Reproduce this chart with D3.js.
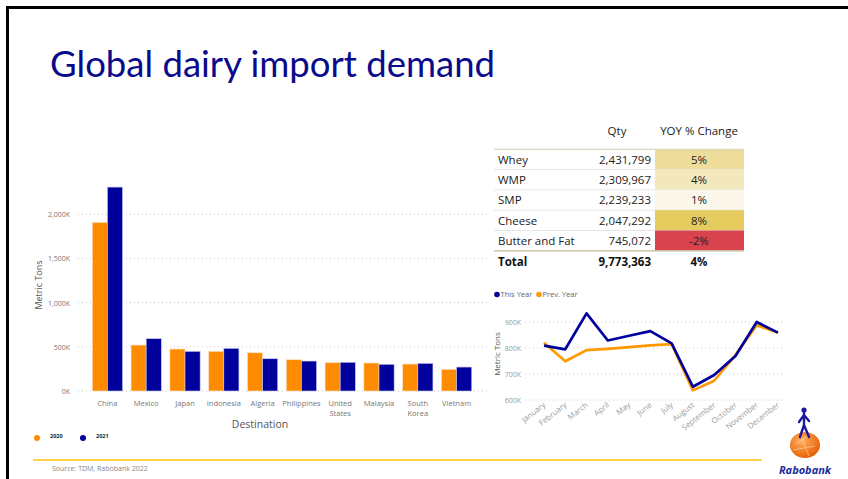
<!DOCTYPE html>
<html>
<head>
<meta charset="utf-8">
<script src="https://cdn.jsdelivr.net/npm/d3@7"></script>
<style>
  body { margin: 0; background: #fff; }
  svg { display: block; }
</style>
</head>
<body>
<div id="chart"></div>
<script>
// ---- data ----
var destinations = ["China", "Mexico", "Japan", "Indonesia", "Algeria", "Philippines", "United States", "Malaysia", "South Korea", "Vietnam"];
var imports2020 = [1908, 520, 475, 449, 433, 354, 320, 317, 305, 245];   // thousand tons
var imports2021 = [2308, 592, 449, 483, 365, 339, 325, 302, 313, 271];
var barTicks = [0, 500, 1000, 1500, 2000];

var products = ["Whey", "WMP", "SMP", "Cheese", "Butter and Fat"];
var qty = [2431799, 2309967, 2239233, 2047292, 745072];
var yoy = [5, 4, 1, 8, -2];
var totalQty = 9773363, totalYoy = 4;

var months = ["January", "February", "March", "April", "May", "June", "July", "August", "September", "October", "November", "December"];
var thisYear = [809, 795, 933, 829, 847, 865, 818, 651, 696, 769, 900, 859];
var prevYear = [820, 749, 792, 797, 803, 810, 815, 637, 674, 773, 888, 859];
var lineTicks = [600, 700, 800, 900];

var width = 848, height = 479;
var orange = "#ff8c00", navy = "#00009c";

var svg = d3.select("#chart").append("svg")
  .attr("width", width)
  .attr("height", height)
  .style("font-family", "'Open Sans', sans-serif");

svg.append("rect").attr("width", width).attr("height", height).attr("fill", "#fff");

// slide frame
svg.append("path")
  .attr("d", "M7.5," + height + "V7.5H" + width)
  .attr("fill", "none")
  .attr("stroke", "#000")
  .attr("stroke-width", 3);

// title
svg.append("text")
  .attr("x", 50).attr("y", 77)
  .attr("fill", "#0a0a8c")
  .attr("textLength", 445)
  .attr("lengthAdjust", "spacingAndGlyphs")
  .style("font-family", "Lato, sans-serif")
  .style("font-size", "37px")
  .text("Global dairy import demand");

// ---- bar chart ----
var x0 = d3.scaleBand()
  .domain(destinations)
  .range([88, 476])
  .paddingInner(0.22)
  .paddingOuter(0.11);

var x1 = d3.scaleBand()
  .domain(["2020", "2021"])
  .range([0, x0.bandwidth()]);

var y = d3.scaleLinear()
  .domain([0, 2000])
  .range([391, 214.3]);

var barG = svg.append("g");

barG.selectAll(".grid")
  .data(barTicks)
  .enter().append("line")
  .attr("x1", 78).attr("x2", 487)
  .attr("y1", d => y(d)).attr("y2", d => y(d))
  .attr("stroke", "#c8c8c8")
  .attr("stroke-dasharray", "1,3");

barG.selectAll(".ytick")
  .data(barTicks)
  .enter().append("text")
  .attr("x", 70).attr("y", d => y(d) + 3)
  .attr("text-anchor", "end")
  .attr("fill", "#777")
  .style("font-size", "7px")
  .text(d => d3.format(",")(d) + "K");

var groups = barG.selectAll(".grp")
  .data(destinations)
  .enter().append("g")
  .attr("transform", d => "translate(" + x0(d) + ",0)");

groups.append("rect")
  .attr("x", x1("2020"))
  .attr("width", x1.bandwidth())
  .attr("y", (d, i) => y(imports2020[i]))
  .attr("height", (d, i) => y(0) - y(imports2020[i]))
  .attr("fill", orange)
  .attr("stroke", "#fbe3c8")
  .attr("stroke-width", 0.6);

groups.append("rect")
  .attr("x", x1("2021"))
  .attr("width", x1.bandwidth())
  .attr("y", (d, i) => y(imports2021[i]))
  .attr("height", (d, i) => y(0) - y(imports2021[i]))
  .attr("fill", navy)
  .attr("stroke", "#c8c8f0")
  .attr("stroke-width", 0.6);

groups.each(function(d) {
  var words = d.split(" ");
  var t = d3.select(this).append("text")
    .attr("x", x0.bandwidth() / 2)
    .attr("y", 406)
    .attr("text-anchor", "middle")
    .attr("fill", "#777")
    .style("font-size", "7.5px");
  words.forEach(function(w, k) {
    t.append("tspan").attr("x", x0.bandwidth() / 2).attr("dy", k ? 10 : 0).text(w);
  });
});

barG.append("text")
  .attr("x", 260).attr("y", 428)
  .attr("text-anchor", "middle")
  .attr("fill", "#555")
  .style("font-size", "10.5px")
  .text("Destination");

barG.append("text")
  .attr("transform", "translate(42,285) rotate(-90)")
  .attr("text-anchor", "middle")
  .attr("fill", "#555")
  .style("font-size", "9px")
  .text("Metric Tons");

// legend
var legendItems = [{k: "2020", c: orange, x: 37}, {k: "2021", c: navy, x: 83}];
var lg = barG.selectAll(".lg").data(legendItems).enter().append("g")
  .attr("transform", d => "translate(" + d.x + ",438)");
lg.append("circle").attr("r", 3).attr("fill", d => d.c);
lg.append("text").attr("x", 13).attr("y", -0.5)
  .attr("fill", "#222")
  .style("font-size", "5.5px").style("font-weight", "bold")
  .text(d => d.k);

// ---- table ----
var tbl = svg.append("g");
var colL = 494, colR = 744, yoyL = 655;
var rowH = 20.3, row0 = 149.3;
var yoyColor = d3.scaleLinear()
  .domain([-2, 0, 1, 4, 5, 8])
  .range(["#d9434e", "#fdfbf4", "#fbf7ea", "#f3e8bd", "#eedd9a", "#e6cc5f"]);

tbl.append("text").attr("x", 617).attr("y", 135).attr("text-anchor", "middle")
  .attr("fill", "#222").style("font-size", "11.5px").text("Qty");
tbl.append("text").attr("x", 699).attr("y", 135).attr("text-anchor", "middle")
  .attr("fill", "#222").style("font-size", "11.5px").text("YOY % Change");

var rows = tbl.selectAll(".row").data(products).enter().append("g")
  .attr("transform", (d, i) => "translate(0," + (row0 + i * rowH) + ")");

rows.append("rect")
  .attr("x", yoyL).attr("width", colR - yoyL).attr("height", rowH)
  .attr("fill", (d, i) => yoyColor(yoy[i]));
rows.append("line")
  .attr("x1", colL).attr("x2", colR).attr("y1", rowH).attr("y2", rowH)
  .attr("stroke", "#e6e6e6");
rows.append("text").attr("x", 498).attr("y", 14.5)
  .attr("fill", "#222").style("font-size", "11.5px").text(d => d);
rows.append("text").attr("x", 651).attr("y", 14.5).attr("text-anchor", "end")
  .attr("fill", "#222").style("font-size", "11.5px").text((d, i) => d3.format(",")(qty[i]));
rows.append("text").attr("x", 699).attr("y", 14.5).attr("text-anchor", "middle")
  .attr("fill", "#222").style("font-size", "11.5px").text((d, i) => yoy[i] + "%");

tbl.append("line").attr("x1", colL).attr("x2", colR).attr("y1", row0).attr("y2", row0)
  .attr("stroke", "#ddd8c0").attr("stroke-width", 1.2);
var totY = row0 + products.length * rowH;
tbl.append("line").attr("x1", colL).attr("x2", colR).attr("y1", totY).attr("y2", totY)
  .attr("stroke", "#c9c1a0").attr("stroke-width", 1.2);
tbl.append("text").attr("x", 498).attr("y", totY + 15)
  .attr("fill", "#111").style("font-size", "11.5px").style("font-weight", "bold").text("Total");
tbl.append("text").attr("x", 651).attr("y", totY + 15).attr("text-anchor", "end")
  .attr("fill", "#111").style("font-size", "11.5px").style("font-weight", "bold").text(d3.format(",")(totalQty));
tbl.append("text").attr("x", 699).attr("y", totY + 15).attr("text-anchor", "middle")
  .attr("fill", "#111").style("font-size", "11.5px").style("font-weight", "bold").text(totalYoy + "%");

// ---- line chart ----
var lx = d3.scalePoint().domain(months).range([544, 778]);
var ly = d3.scaleLinear().domain([600, 900]).range([400, 322]);
var lineG = svg.append("g");

lineG.selectAll(".lgrid").data(lineTicks).enter().append("line")
  .attr("x1", 525).attr("x2", 783)
  .attr("y1", d => ly(d)).attr("y2", d => ly(d))
  .attr("stroke", "#c8c8c8").attr("stroke-dasharray", "1,3");

lineG.selectAll(".ltick").data(lineTicks).enter().append("text")
  .attr("x", 521).attr("y", d => ly(d) + 3)
  .attr("text-anchor", "end").attr("fill", "#999")
  .style("font-size", "7px")
  .text(d => d + "K");

lineG.selectAll(".mlab").data(months).enter().append("text")
  .attr("transform", d => "translate(" + (lx(d) + 2) + ",406) rotate(-38)")
  .attr("text-anchor", "end").attr("fill", "#999")
  .style("font-size", "7.8px")
  .text(d => d);

lineG.append("text")
  .attr("transform", "translate(500,354) rotate(-90)")
  .attr("text-anchor", "middle").attr("fill", "#555")
  .style("font-size", "8px")
  .text("Metric Tons");

var line = d3.line().x((d, i) => lx(months[i])).y(d => ly(d));
lineG.append("path").datum(prevYear).attr("d", line)
  .attr("fill", "none").attr("stroke", "#ff9900").attr("stroke-width", 2.7)
  .attr("stroke-linejoin", "round");
lineG.append("path").datum(thisYear).attr("d", line)
  .attr("fill", "none").attr("stroke", navy).attr("stroke-width", 2.7)
  .attr("stroke-linejoin", "round");

var lineLegend = [{k: "This Year", c: navy, x: 497}, {k: "Prev. Year", c: "#ff9900", x: 539}];
var ll = lineG.selectAll(".ll").data(lineLegend).enter().append("g")
  .attr("transform", d => "translate(" + d.x + ",294.5)");
ll.append("circle").attr("r", 2.8).attr("fill", d => d.c);
ll.append("text").attr("x", 3.5).attr("y", 2.6).attr("fill", "#666")
  .style("font-size", "7.5px").text(d => d.k);

// ---- footer ----
svg.append("line").attr("x1", 33).attr("x2", 762).attr("y1", 460).attr("y2", 460)
  .attr("stroke", "#ffd24a").attr("stroke-width", 2);
svg.append("text").attr("x", 52).attr("y", 471)
  .attr("fill", "#888").style("font-size", "7px")
  .text("Source: TDM, Rabobank 2022");

// Rabobank mark
var logo = svg.append("g").attr("transform", "translate(805,0)");
var grad = svg.append("defs").append("radialGradient").attr("id", "globe")
  .attr("cx", "40%").attr("cy", "35%").attr("r", "70%");
grad.append("stop").attr("offset", "0%").attr("stop-color", "#ffb060");
grad.append("stop").attr("offset", "100%").attr("stop-color", "#e65c00");
logo.append("ellipse").attr("cx", 0).attr("cy", 445).attr("rx", 15).attr("ry", 13)
  .attr("fill", "url(#globe)");
logo.append("path").attr("d", "M-9,444 L3,436 M-12,450 L10,446 M-4,436 L4,456")
  .attr("stroke", "#ffd9b0").attr("stroke-width", 0.6).attr("fill", "none");
logo.append("circle").attr("cx", -1).attr("cy", 410).attr("r", 2.6).attr("fill", "#1a1aa0");
logo.append("path")
  .attr("d", "M-1,413 L-1,425 M-1,415 L-6,422 M-1,415 L4,421 M-1,425 L-5,437 M-1,425 L4,437")
  .attr("stroke", "#1a1aa0").attr("stroke-width", 2.4).attr("stroke-linecap", "round").attr("fill", "none");
logo.append("text").attr("x", 0).attr("y", 474).attr("text-anchor", "middle")
  .attr("fill", "#1a2b9c").style("font-size", "11px").style("font-weight", "bold").style("font-style", "italic")
  .text("Rabobank");
</script>
</body>
</html>
